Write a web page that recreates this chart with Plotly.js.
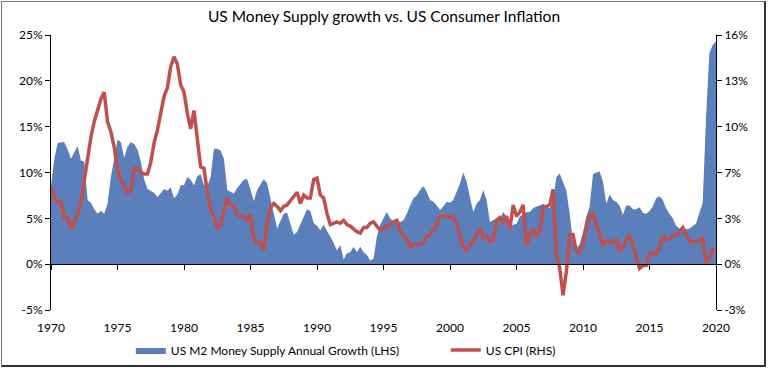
<!DOCTYPE html>
<html>
<head>
<meta charset="utf-8">
<script src="https://cdn.plot.ly/plotly-3.0.1.min.js"></script>
<style>
  html, body { margin: 0; padding: 0; background: #fff; }
  #wrap { position: relative; width: 768px; height: 369px; }
  #chart { position: absolute; left: 0; top: 0; width: 768px; height: 369px; }
  #frame { position: absolute; left: 1px; top: 1px; width: 765px; height: 366px; box-sizing: border-box;
           border-left: 1px solid #777; border-top: 1px solid #777; border-right: 2px solid #333; border-bottom: 2px solid #333;
           pointer-events: none; }
</style>
</head>
<body>
<div id="wrap"><div id="chart"></div><div id="frame"></div></div>
<script>
// Quarterly observations, 1970 Q1 .. 2020 Q1
const startYear = 1970;
const stepYears = 0.25;

// US M2 money supply, annual growth (%), left axis
const m2Growth = [
  8.5, 11.5, 13.2, 13.3, 13.3, 12.5, 11.5, 12.2, 12.9, 11.3, 11.2, 7.0, 6.7, 6.0, 5.5, 5.8, 5.5, 6.6, 9.5, 11.5,
  13.6, 13.3, 11.6, 12.8, 13.3, 13.1, 12.5, 11.2, 9.3, 8.2, 8.0, 7.8, 7.3, 7.7, 8.2, 8.0, 8.4, 7.2, 7.6, 8.6,
  8.6, 9.5, 9.2, 8.6, 9.6, 9.8, 8.6, 8.5, 9.5, 12.6, 12.6, 12.4, 11.5, 8.1, 7.9, 7.7, 8.3, 8.8, 9.2, 9.3,
  8.2, 6.9, 8.1, 8.7, 9.3, 8.8, 7.1, 5.6, 3.9, 4.7, 5.5, 5.6, 4.5, 3.2, 3.5, 4.4, 5.1, 6.0, 5.8, 4.5,
  4.2, 3.7, 4.3, 3.7, 3.0, 2.3, 1.5, 2.1, 0.5, 1.2, 1.3, 1.9, 1.3, 1.9, 1.3, 1.0, 0.4, 0.6, 3.0, 4.3,
  5.0, 5.7, 5.0, 4.6, 4.8, 4.6, 4.8, 5.5, 6.4, 7.2, 7.5, 8.1, 8.5, 7.9, 7.0, 6.8, 6.4, 5.9, 6.3, 6.8,
  6.7, 7.0, 7.9, 8.8, 10.0, 9.0, 7.3, 5.7, 6.6, 7.0, 8.1, 7.0, 4.6, 4.8, 5.0, 4.9, 5.7, 5.2, 4.1, 4.3,
  4.4, 5.2, 5.5, 5.7, 5.7, 6.1, 6.3, 6.4, 6.6, 6.3, 6.1, 7.0, 9.5, 9.9, 9.0, 8.0, 5.5, 2.3, 1.7, 2.2,
  3.5, 5.2, 6.3, 9.8, 10.0, 10.1, 9.0, 6.6, 7.6, 7.0, 6.8, 6.4, 5.4, 6.4, 6.4, 6.0, 6.0, 6.2, 5.6, 5.5,
  5.8, 6.3, 7.2, 7.4, 7.0, 6.1, 5.5, 5.0, 4.2, 3.9, 3.9, 3.8, 3.9, 4.2, 4.4, 5.6, 6.7, 16.0, 23.0, 23.9,
  24.3
];

// US CPI, annual change (%), right axis
const cpi = [
  5.5, 4.7, 4.4, 4.4, 3.3, 3.3, 2.5, 3.0, 3.5, 4.4, 5.9, 7.8, 9.0, 10.1, 10.9, 11.7, 12.2, 10.1, 9.4, 8.3,
  6.7, 6.0, 5.5, 5.1, 5.2, 6.8, 6.8, 6.5, 6.4, 6.4, 7.2, 8.6, 9.5, 10.6, 11.9, 12.5, 14.0, 14.7, 14.2, 12.7,
  12.2, 10.7, 9.6, 10.9, 9.1, 6.9, 6.8, 5.1, 3.9, 3.4, 2.5, 2.8, 3.8, 4.7, 4.2, 4.1, 3.5, 3.4, 3.4, 3.1,
  3.5, 1.8, 1.5, 1.5, 1.0, 2.9, 4.0, 4.3, 4.1, 3.8, 4.1, 4.2, 4.5, 4.8, 5.1, 4.3, 4.9, 4.7, 4.7, 6.0,
  6.1, 4.9, 4.7, 3.6, 2.8, 2.9, 3.0, 2.9, 3.1, 2.8, 2.7, 2.5, 2.3, 2.2, 2.6, 2.6, 2.9, 3.0, 2.7, 2.4,
  2.5, 2.7, 2.8, 3.0, 3.1, 2.3, 2.0, 1.8, 1.2, 1.4, 1.4, 1.4, 1.5, 2.0, 2.1, 2.5, 2.8, 3.4, 3.4, 3.4,
  3.3, 3.4, 2.9, 2.1, 1.2, 1.0, 1.3, 1.6, 2.1, 2.5, 1.9, 2.0, 1.6, 1.7, 3.1, 3.3, 3.0, 3.4, 2.5, 4.2,
  3.4, 3.7, 4.2, 1.3, 2.1, 2.5, 2.0, 2.3, 4.0, 4.1, 4.2, 5.3, 0.7, -0.3, -2.2, -0.5, 2.1, 2.1, 0.9, 0.8,
  1.4, 2.6, 3.4, 3.6, 2.8, 2.2, 1.3, 1.7, 1.6, 1.5, 1.8, 0.9, 1.2, 1.7, 2.0, 1.4, 0.5, -0.3, -0.1, -0.1,
  0.8, 0.8, 0.7, 1.2, 2.0, 1.7, 1.8, 2.0, 2.1, 2.3, 2.6, 2.1, 1.6, 1.6, 1.6, 1.7, 1.9, 0.0, 0.4, 1.0,
  1.0
];

const yearTicks = [1970, 1975, 1980, 1985, 1990, 1995, 2000, 2005, 2010, 2015, 2020];
const leftTickVals = [-5, 0, 5, 10, 15, 20, 25];
const leftTickText = ['-5%', '0%', '5%', '10%', '15%', '20%', '25%'];
const rightTickVals = [-3.25, 0, 3.25, 6.5, 9.75, 13, 16.25];
const rightTickText = ['-3%', '0%', '3%', '7%', '10%', '13%', '16%'];

const years = m2Growth.map((_, i) => startYear + i * stepYears);

const FONT = 'Lato, "Open Sans", "Liberation Sans", sans-serif';

const traces = [
  {
    x: years, y: m2Growth, xaxis: 'x', yaxis: 'y',
    type: 'scatter', mode: 'lines', fill: 'tozeroy',
    fillcolor: '#5b7fba', line: { width: 0, color: '#5b7fba' },
    name: 'US M2 Money Supply Annual Growth (LHS)', hoverinfo: 'skip'
  },
  {
    x: years, y: cpi, xaxis: 'x2', yaxis: 'y2',
    type: 'scatter', mode: 'lines',
    line: { width: 3.5, color: '#bf504d' },
    name: 'US CPI (RHS)', hoverinfo: 'skip'
  }
];

const layout = {
  width: 768, height: 369,
  margin: { l: 51, r: 52, t: 35, b: 59, autoexpand: false },
  paper_bgcolor: 'rgba(0,0,0,0)', plot_bgcolor: 'rgba(0,0,0,0)',
  font: { family: FONT, size: 12, color: '#000' },
  title: {
    text: 'US Money Supply growth vs. US Consumer Inflation',
    font: { family: FONT, size: 15.5, color: '#000' },
    x: 0.5, xanchor: 'center', y: 1 - 17 / 369, yanchor: 'middle', yref: 'container'
  },
  showlegend: true,
  legend: {
    orientation: 'h', x: 0.12, xanchor: 'left', y: -0.145, yanchor: 'middle',
    entrywidth: 270, entrywidthmode: 'pixels',
    font: { family: FONT, size: 12, color: '#000' }, bgcolor: 'rgba(0,0,0,0)'
  },
  xaxis: {
    range: [1970, 2020], tickvals: yearTicks, ticktext: yearTicks.map(String),
    showline: false, ticks: '', showgrid: false, zeroline: false,
    ticklabelstandoff: 9,
    tickfont: { family: FONT, size: 12 }
  },
  xaxis2: {
    overlaying: 'x', anchor: 'free', position: 5 / 30,
    range: [1970, 2020], tickvals: yearTicks,
    showline: true, linecolor: '#000', linewidth: 1,
    ticks: 'outside', ticklen: 5, tickcolor: '#000', tickwidth: 1,
    showticklabels: false, showgrid: false, zeroline: false
  },
  yaxis: {
    range: [-5, 25], tickvals: leftTickVals, ticktext: leftTickText,
    showline: true, linecolor: '#000', linewidth: 1,
    ticks: 'outside', ticklen: 5, tickcolor: '#000',
    showgrid: false, zeroline: false, tickfont: { family: FONT, size: 12 }
  },
  yaxis2: {
    overlaying: 'y', side: 'right', anchor: 'x2',
    range: [-3.25, 16.25], tickvals: rightTickVals, ticktext: rightTickText,
    showline: true, linecolor: '#000', linewidth: 1,
    ticks: 'outside', ticklen: 5, tickcolor: '#000',
    showgrid: false, zeroline: false, tickfont: { family: FONT, size: 12 }
  }
};

Plotly.newPlot('chart', traces, layout, { staticPlot: true, displayModeBar: false });
</script>
</body>
</html>
